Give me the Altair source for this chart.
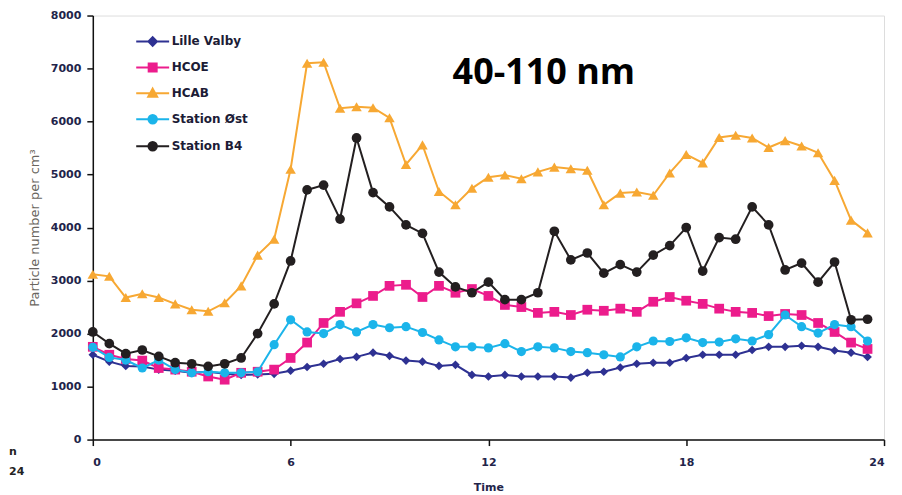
import altair as alt
import pandas as pd

hours = [0, 0.5, 1, 1.5, 2, 2.5, 3, 3.5, 4, 4.5, 5, 5.5, 6, 6.5, 7, 7.5,
         8, 8.5, 9, 9.5, 10, 10.5, 11, 11.5, 12, 12.5, 13, 13.5, 14, 14.5, 15, 15.5,
         16, 16.5, 17, 17.5, 18, 18.5, 19, 19.5, 20, 20.5, 21, 21.5, 22, 22.5, 23, 23.5]

lille_valby = [1600, 1470, 1390, 1380, 1320, 1300, 1260, 1280, 1240, 1220, 1230, 1240,
               1300, 1370, 1430, 1520, 1560, 1640, 1580, 1490, 1470, 1390, 1410, 1220,
               1190, 1220, 1190, 1190, 1190, 1170, 1260, 1280, 1360, 1430, 1450, 1450,
               1540, 1600, 1600, 1600, 1690, 1750, 1750, 1770, 1750, 1680, 1640, 1560]

hcoe = [1750, 1600, 1520, 1490, 1350, 1320, 1280, 1190, 1130, 1260, 1280, 1320,
        1540, 1830, 2200, 2410, 2570, 2710, 2900, 2920, 2690, 2900, 2770, 2840,
        2710, 2540, 2500, 2390, 2410, 2350, 2450, 2430, 2470, 2410, 2600, 2690,
        2620, 2560, 2470, 2410, 2390, 2330, 2370, 2350, 2200, 2030, 1830, 1710]

hcab = [3120, 3080, 2680, 2750, 2680, 2560, 2450, 2420, 2580, 2900, 3480, 3780,
        5100, 7100, 7120, 6250, 6280, 6260, 6070, 5190, 5560, 4680, 4430, 4740,
        4950, 4990, 4920, 5050, 5140, 5110, 5080, 4430, 4650, 4670, 4610, 5030,
        5380, 5220, 5700, 5740, 5690, 5510, 5640, 5540, 5410, 4890, 4140, 3900]

station_ost = [1740, 1550, 1500, 1350, 1500, 1320, 1260, 1280, 1260, 1260, 1280, 1790,
               2260, 2030, 2000, 2170, 2030, 2170, 2110, 2130, 2020, 1880, 1750, 1750,
               1730, 1810, 1660, 1750, 1730, 1660, 1640, 1600, 1560, 1750, 1860, 1850,
               1920, 1830, 1840, 1900, 1860, 1980, 2350, 2130, 2010, 2170, 2130, 1860]

station_b4 = [2030, 1810, 1620, 1690, 1570, 1450, 1430, 1380, 1430, 1540, 2000, 2560,
              3370, 4710, 4800, 4160, 5690, 4660, 4390, 4050, 3890, 3160, 2880, 2770,
              2970, 2640, 2640, 2770, 3930, 3390, 3520, 3140, 3300, 3160, 3480, 3660,
              4000, 3180, 3810, 3780, 4390, 4050, 3200, 3330, 2970, 3350, 2260, 2270]

names = ["Lille Valby", "HCOE", "HCAB", "Station Øst", "Station B4"]
colors = ["#2E3192", "#EC1C8C", "#F7A833", "#1BB4EA", "#231F20"]
shapes = ["diamond", "square", "triangle-up", "circle", "circle"]
sizes = [75, 95, 110, 85, 95]
series_values = [lille_valby, hcoe, hcab, station_ost, station_b4]

# legend symbols: a line segment with the marker on it
legend_paths = [
    "M-3.3,0H3.3M0,-0.85L0.85,0L0,0.85L-0.85,0Z",
    "M-3.3,0H3.3M-0.8,-0.8H0.8V0.8H-0.8Z",
    "M-3.3,0H3.3M0,-0.95L0.9,0.7H-0.9Z",
    "M-3.3,0H3.3M0.85,0A0.85,0.85 0 1,1 -0.85,0A0.85,0.85 0 1,1 0.85,0Z",
    "M-3.3,0H3.3M0.85,0A0.85,0.85 0 1,1 -0.85,0A0.85,0.85 0 1,1 0.85,0Z",
]

rows = []
for name, vals in zip(names, series_values):
    for t, v in zip(hours, vals):
        rows.append({"t": t, "v": v, "s": name})
df = pd.DataFrame(rows)

label_color = "#22244a"

x_enc = alt.X("t:Q", scale=alt.Scale(domain=[0, 24], nice=False),
              axis=alt.Axis(values=[0, 6, 12, 18, 24], title="Time", grid=False,
                            format="d",
                            domainColor="#111", domainWidth=1.5, tickColor="#111",
                            tickWidth=1.5, tickSize=6, labelPadding=11,
                            labelFont="DejaVu Sans", labelFontWeight="bold",
                            labelFontSize=11, labelColor=label_color,
                            titleFont="DejaVu Sans", titleFontWeight="bold",
                            titleFontSize=11, titleColor=label_color, titlePadding=14))
y_enc = alt.Y("v:Q", scale=alt.Scale(domain=[0, 8000], nice=False),
              axis=alt.Axis(values=[0, 1000, 2000, 3000, 4000, 5000, 6000, 7000, 8000],
                            title="Particle number per cm³", grid=False, format="d",
                            domainColor="#111", domainWidth=1.5, tickColor="#111",
                            tickWidth=1.5, tickSize=6, labelPadding=6,
                            labelFont="DejaVu Sans", labelFontWeight="bold",
                            labelFontSize=11, labelColor=label_color,
                            titleFont="DejaVu Sans", titleFontWeight="normal",
                            titleFontSize=13, titleColor="#6a6660", titlePadding=9))

layers = []
for name, col, shp, sz in zip(names, colors, shapes, sizes):
    layers.append(
        alt.Chart(df)
        .transform_filter(alt.datum.s == name)
        .mark_line(color=col, strokeWidth=2,
                   point=alt.OverlayMarkDef(shape=shp, size=sz, filled=True,
                                            color=col, opacity=1))
        .encode(x=x_enc, y=y_enc, order="t:Q")
    )

leg = alt.Legend(orient="none", legendX=54, legendY=20, title=None,
                 labelFont="DejaVu Sans", labelFontSize=12, labelFontWeight="bold",
                 labelColor="#1c1c36", symbolSize=100, labelOffset=13,
                 rowPadding=9, padding=0, symbolOpacity=1, symbolStrokeWidth=2)

legend_layer = (
    alt.Chart(df)
    .transform_filter("false")
    .mark_point(filled=True, opacity=1, strokeWidth=2)
    .encode(
        x=x_enc, y=y_enc,
        color=alt.Color("s:N", scale=alt.Scale(domain=names, range=colors), legend=leg),
        stroke=alt.Stroke("s:N", scale=alt.Scale(domain=names, range=colors), legend=leg),
        shape=alt.Shape("s:N", scale=alt.Scale(domain=names, range=legend_paths), legend=leg),
    )
)

title_df = pd.DataFrame({"label": ["40-110 nm"]})
title_text = alt.Chart(title_df).mark_text(
    font="Open Sans", fontSize=36, fontWeight="bold", color="#000",
    align="center", baseline="middle"
).encode(text="label:N", x=alt.value(452), y=alt.value(58))

stray_df = pd.DataFrame({"label": ["n", "24"], "ypos": [437, 458]})
stray_text = alt.Chart(stray_df).mark_text(
    font="DejaVu Sans", fontSize=11, fontWeight="bold", color="#222",
    align="left", baseline="middle"
).encode(text="label:N", x=alt.value(-84), y=alt.Y("ypos:Q", scale=None))

chart = (
    alt.layer(*layers, legend_layer, title_text, stray_text)
    .properties(width=793, height=425,
                padding={"left": 85, "top": 7, "right": 10, "bottom": 55},
                autosize=alt.AutoSizeParams(type="none"))
    .configure_view(stroke=None)
    .configure(background="white")
)

chart.save("out.html", embed_options={"renderer": "svg", "actions": False})
